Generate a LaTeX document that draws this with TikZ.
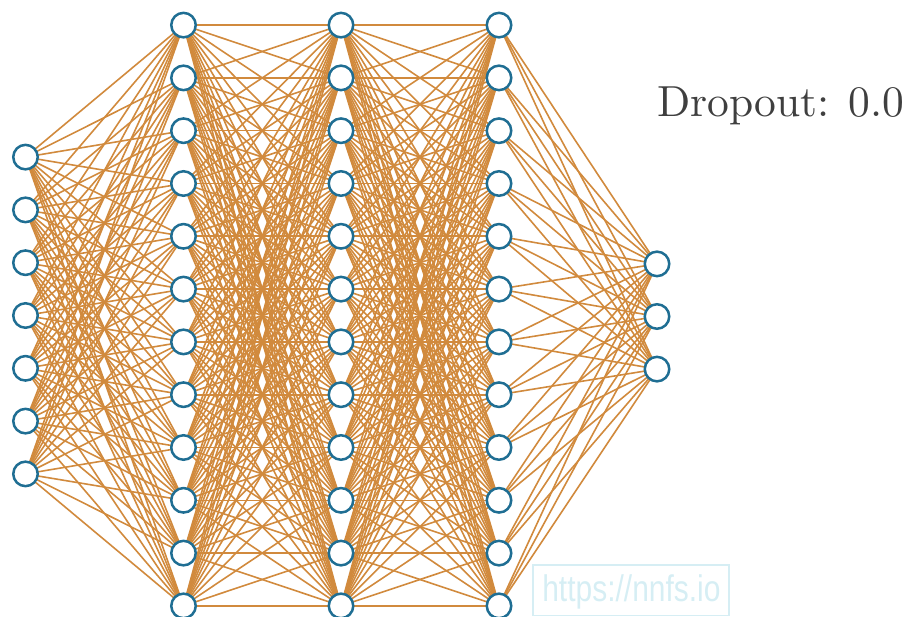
\documentclass[tikz,border=0pt]{standalone}
\usepackage{fontspec}
\newfontfamily\wmfont{Liberation Sans}
\newfontfamily\lmten{lmroman10-regular}[Extension=.otf]
\usetikzlibrary{backgrounds}
\definecolor{edgec}{HTML}{D18A3D}
\definecolor{nodec}{HTML}{1F6E93}
\definecolor{wmc}{HTML}{D6EEF4}
\definecolor{txtc}{HTML}{3F3F3F}
\begin{document}
\begin{tikzpicture}[x=1pt,y=-1pt,
  neuron/.style={circle,draw=nodec,line width=2.5pt,fill=white,minimum size=24.5pt,inner sep=0pt},
  conn/.style={draw=edgec,line width=1.6pt},
  wmbox/.style={draw=wmc,line width=1.5pt,minimum width=196pt,minimum height=50.5pt,inner sep=0pt},
  wmtext/.style={text=wmc,font=\wmfont\fontsize{37}{40}\selectfont,inner sep=0pt,anchor=base,xscale=0.81},
  label/.style={text=txtc,font=\lmten\fontsize{43.5}{50}\selectfont,inner sep=0pt,anchor=base west}]
\useasboundingbox (0,0) rectangle (907,617);
\clip (0,0) rectangle (907,617);
% input layer
\foreach \i in {1,...,7}{
  \node[neuron] (n1-\i) at (25.5,{315.5+(\i-4)*52.8}) {};
}
% hidden layers
\foreach \l/\x in {2/183.5,3/341,4/499}{
  \foreach \i in {1,...,12}{
    \node[neuron] (n\l-\i) at (\x,{315.5+(\i-6.5)*52.8}) {};
  }
}
% output layer
\foreach \i in {1,...,3}{
  \node[neuron] (n5-\i) at (657,{316.5+(\i-2)*52.6}) {};
}
\begin{scope}[on background layer]
  \foreach \i in {1,...,7}{
    \foreach \j in {1,...,12}{
      \draw[conn] (n1-\i.center) -- (n2-\j.center);
    }
  }
  \foreach \a/\b in {2/3,3/4}{
    \foreach \i in {1,...,12}{
      \foreach \j in {1,...,12}{
        \draw[conn] (n\a-\i.center) -- (n\b-\j.center);
      }
    }
  }
  \foreach \i in {1,...,12}{
    \foreach \j in {1,...,3}{
      \draw[conn] (n4-\i.center) -- (n5-\j.center);
    }
  }
\end{scope}
\node[label] (drop) at (657,116.7) {Dropout: 0.0};
\node[wmbox] (wm) at (631,590.3) {};
\node[wmtext] (wmt) at (631.4,601.7) {https://nnfs.io};
\end{tikzpicture}
\end{document}
